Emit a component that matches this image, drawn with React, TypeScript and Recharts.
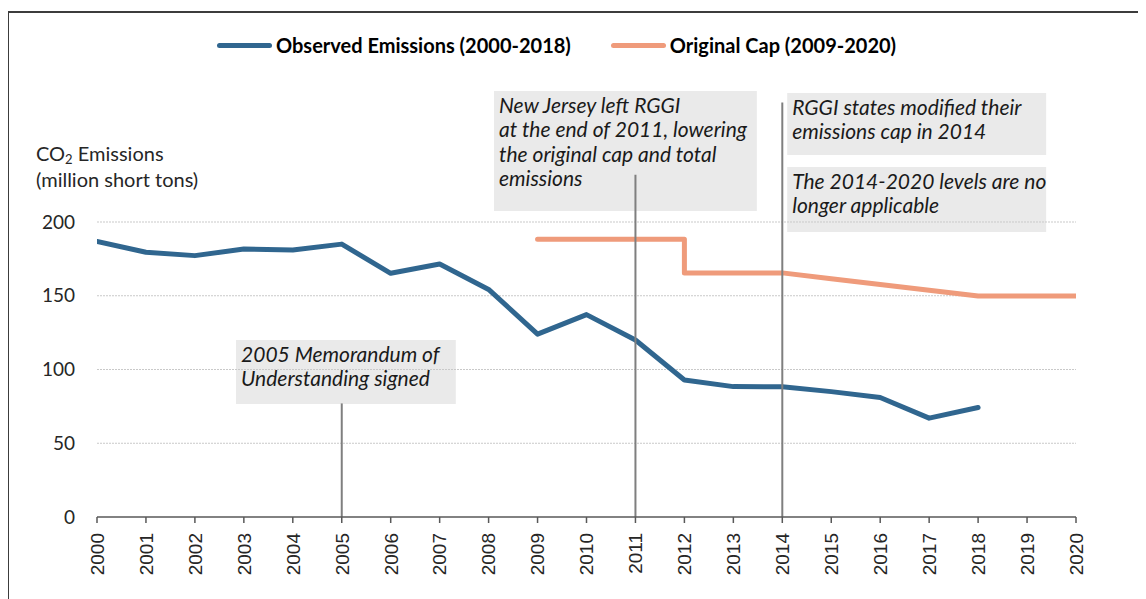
import React from 'react';
import { LineChart, Line, XAxis, YAxis, ReferenceArea, ReferenceLine, Legend } from 'recharts';

const emissionYears = [2000, 2001, 2002, 2003, 2004, 2005, 2006, 2007, 2008, 2009, 2010, 2011, 2012, 2013, 2014, 2015, 2016, 2017, 2018];
const emissionValues = [186.8, 179.5, 177.2, 181.7, 181, 185, 165.2, 171.5, 154.3, 124, 137.2, 120, 92.9, 88.4, 88.3, 85, 81, 67, 74.2];

const capYears = [2009, 2010, 2011, 2012, 2012, 2013, 2014, 2015, 2016, 2017, 2018, 2019, 2020];
const capValues = [188.3, 188.3, 188.3, 188.3, 165.5, 165.5, 165.5, 161.5, 157.6, 153.7, 149.8, 149.8, 149.8];

const xTicks = [2000, 2001, 2002, 2003, 2004, 2005, 2006, 2007, 2008, 2009, 2010, 2011, 2012, 2013, 2014, 2015, 2016, 2017, 2018, 2019, 2020];
const yTicks = [0, 50, 100, 150, 200];
const gridValues = [50, 100, 150, 200];

const seriesNames = ['Observed Emissions (2000-2018)', 'Original Cap (2009-2020)'];
const seriesColors = ['#30668f', '#ef9b7b'];

const annotations = [
  { lines: ['2005 Memorandum of', 'Understanding signed'], x1: 2002.84, x2: 2007.33, y1: 76.6, y2: 120 },
  { lines: ['New Jersey left RGGI', 'at the end of 2011, lowering', 'the original cap and total', 'emissions'], x1: 2008.11, x2: 2013.48, y1: 207.5, y2: 288.8 },
  { lines: ['RGGI states modified their', 'emissions cap in 2014'], x1: 2014.1, x2: 2019.39, y1: 245.4, y2: 287.5 },
  { lines: ['The 2014-2020 levels are no', 'longer applicable'], x1: 2014.1, x2: 2019.39, y1: 193.2, y2: 237.3 },
];

const markerYears = [2005, 2011, 2014];
const markerTops = [77, 232, 281];

const emissionData = emissionYears.map((year, i) => ({ year, value: emissionValues[i] }));
const capData = capYears.map((year, i) => ({ year, value: capValues[i] }));

const CALIBRI = 'Lato, "Open Sans", sans-serif';

const AnnotationText = (props: any) => {
  const { viewBox, lines } = props;
  if (!viewBox) return null;
  const { x, y } = viewBox;
  return (
    <text x={x + 5} y={y + 22} fontFamily={CALIBRI} fontStyle="italic" fontSize={21} fill="#1a1a1a">
      {lines.map((l: string, i: number) => (
        <tspan key={i} x={x + 5} dy={i === 0 ? 0 : 24.3}>{l}</tspan>
      ))}
    </text>
  );
};

const AxisTitle = (props: any) => {
  const vb = props.viewBox || { x: 0, y: 66.5 };
  const x = 28;
  const y1 = vb.y + 86;
  return (
    <g>
      <text x={x} y={y1} fontFamily={CALIBRI} fontSize={20} fill="#262626">
        <tspan>CO</tspan>
        <tspan fontSize={13} dy={3}>2</tspan>
        <tspan dy={-3}> Emissions</tspan>
      </text>
      <text x={x} y={y1 + 26} fontFamily={CALIBRI} fontSize={20} fill="#262626">(million short tons)</text>
    </g>
  );
};

const XTick = (props: any) => {
  const { x, y, payload } = props;
  return (
    <g transform={`translate(${x},${y})`}>
      <text transform="rotate(-90)" x={-10} y={0} dy="0.36em" textAnchor="end" fontFamily='"Liberation Sans", Arial, sans-serif' fontSize={19} fill="#262626">
        {payload.value}
      </text>
    </g>
  );
};

const LegendContent = (props: any) => {
  const { payload } = props;
  return (
    <div style={{ display: 'flex', alignItems: 'center', height: 24, fontFamily: CALIBRI, fontWeight: 700, fontSize: 20, color: '#000', whiteSpace: 'nowrap' }}>
      {(payload || []).map((p: any, i: number) => (
        <div key={i} style={{ display: 'flex', alignItems: 'center', marginRight: 40 }}>
          <span style={{ display: 'inline-block', width: 55, height: 5, borderRadius: 3, background: p.color, marginRight: 4 }} />
          <span>{p.value}</span>
        </div>
      ))}
    </div>
  );
};

export default function App() {
  return (
    <div style={{ position: 'relative', width: 1138, height: 591, background: '#fff' }}>
      <div style={{ position: 'absolute', left: -1, top: 3, width: 1139, height: 588, borderTop: '2px solid #3c3c3c', borderLeft: '2px solid #3c3c3c', boxSizing: 'border-box' }} />
      <div style={{ position: 'absolute', left: 0, top: 0 }}>
        <LineChart width={1138} height={591} margin={{ top: 66.5, right: 70, bottom: 22, left: 0 }}>
          <XAxis
            type="number"
            dataKey="year"
            domain={[2000, 2020]}
            ticks={xTicks}
            interval={0}
            height={60}
            tick={<XTick />}
            tickSize={6}
            tickMargin={0}
            stroke="#595959"
            axisLine={{ stroke: '#595959', strokeWidth: 1.5 }}
            tickLine={{ stroke: '#595959', strokeWidth: 1.5 }}
            allowDataOverflow
          />
          <YAxis
            type="number"
            domain={[0, 300]}
            ticks={yTicks}
            width={89}
            axisLine={false}
            tickLine={false}
            tickSize={6}
            tickMargin={16}
            tick={{ fontFamily: CALIBRI, fontSize: 19, fill: '#262626' }}
            label={<AxisTitle />}
            allowDataOverflow
          />
          <Legend
            verticalAlign="middle"
            align="center"
            layout="horizontal"
            content={<LegendContent />}
            wrapperStyle={{ top: 25, left: 209, width: 900 }}
          />
          {gridValues.map((v) => (
            <ReferenceLine key={'g' + v} y={v} stroke="#c9c9c9" strokeDasharray="2 1" strokeWidth={1} />
          ))}
          {annotations.map((a, i) => (
            <ReferenceArea
              key={'a' + i}
              x1={a.x1}
              x2={a.x2}
              y1={a.y1}
              y2={a.y2}
              fill="#eaeaea"
              fillOpacity={1}
              stroke="none"
              ifOverflow="visible"
              label={<AnnotationText lines={a.lines} />}
            />
          ))}
          <Line data={emissionData} dataKey="value" name={seriesNames[0]} stroke={seriesColors[0]} strokeWidth={5} dot={false} strokeLinecap="round" strokeLinejoin="round" isAnimationActive={false} />
          <Line data={capData} dataKey="value" name={seriesNames[1]} stroke={seriesColors[1]} strokeWidth={5} dot={false} strokeLinecap="round" strokeLinejoin="round" isAnimationActive={false} />
          {markerYears.map((yr, i) => (
            <ReferenceLine key={'m' + i} segment={[{ x: yr, y: 0 }, { x: yr, y: markerTops[i] }]} stroke="#7f7f7f" strokeWidth={2} ifOverflow="visible" />
          ))}
        </LineChart>
      </div>
    </div>
  );
}
